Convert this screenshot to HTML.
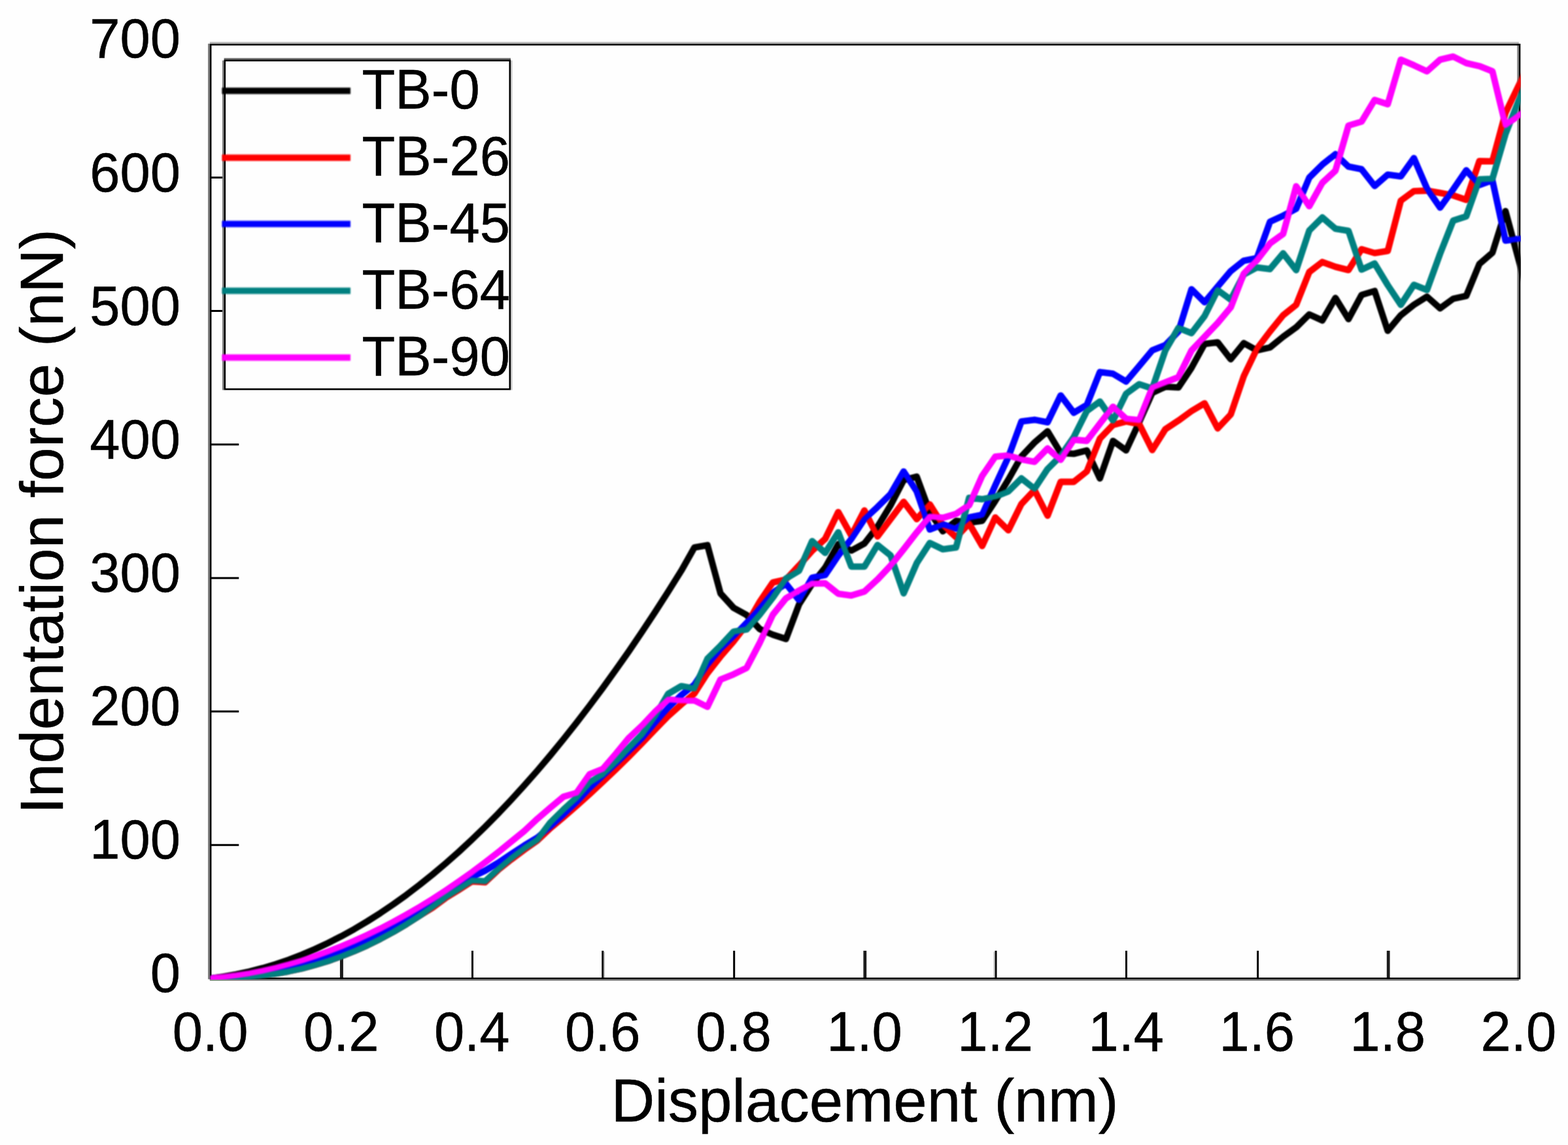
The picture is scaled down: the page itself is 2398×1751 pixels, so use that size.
<!DOCTYPE html>
<html lang="en"><head><meta charset="utf-8"><title>Indentation force vs displacement</title>
<style>
html,body{margin:0;padding:0;background:#fff;}
body{width:2398px;height:1751px;overflow:hidden;}
svg{display:block;}
text{font-family:"Liberation Sans",sans-serif;fill:#000;stroke:#000;stroke-width:0.5px;stroke-linejoin:round;}
.soft{filter:url(#soft);}
.softt{filter:url(#softt);}
.tk{font-size:83.2px;}
.ax{font-size:92.5px;}
.c{fill:none;stroke-width:8.6;stroke-linejoin:round;stroke-linecap:butt;}
</style></head><body>
<svg width="2398" height="1751" viewBox="0 0 2398 1751">
<defs><filter id="soft" x="-2%" y="-2%" width="104%" height="104%" color-interpolation-filters="sRGB"><feGaussianBlur stdDeviation="0.85"/></filter><filter id="softt" x="-5%" y="-20%" width="110%" height="140%" color-interpolation-filters="sRGB"><feGaussianBlur stdDeviation="0.75"/></filter></defs>
<rect x="0" y="0" width="2398" height="1751" fill="#fefefe"/>
<g stroke="#000" stroke-width="3" fill="none">
<line x1="522.4" y1="1496.3" x2="522.4" y2="1453.9" stroke="#1c1c1c" stroke-width="5.0"/>
<line x1="722.5" y1="1496.3" x2="722.5" y2="1453.9" stroke="#000" stroke-width="3.0"/>
<line x1="921.7" y1="1496.3" x2="921.7" y2="1453.9" stroke="#000" stroke-width="3.0"/>
<line x1="924.1" y1="1496.3" x2="924.1" y2="1455.5" stroke="#b4b4b4" stroke-width="1.8"/>
<line x1="1122.7" y1="1496.3" x2="1122.7" y2="1453.9" stroke="#000" stroke-width="3.0"/>
<line x1="1322.8" y1="1496.3" x2="1322.8" y2="1453.9" stroke="#1c1c1c" stroke-width="4.8"/>
<line x1="1523.0" y1="1496.3" x2="1523.0" y2="1453.9" stroke="#000" stroke-width="3.0"/>
<line x1="1520.6" y1="1496.3" x2="1520.6" y2="1455.5" stroke="#b4b4b4" stroke-width="1.8"/>
<line x1="1722.5" y1="1496.3" x2="1722.5" y2="1453.9" stroke="#000" stroke-width="3.0"/>
<line x1="1923.6" y1="1496.3" x2="1923.6" y2="1453.9" stroke="#000" stroke-width="3.0"/>
<line x1="2123.2" y1="1496.3" x2="2123.2" y2="1453.9" stroke="#1c1c1c" stroke-width="4.8"/>
<line x1="321.8" y1="1292.2" x2="365.3" y2="1292.2"/>
<line x1="321.8" y1="1088.0" x2="365.3" y2="1088.0"/>
<line x1="321.8" y1="883.9" x2="365.3" y2="883.9"/>
<line x1="321.8" y1="679.7" x2="365.3" y2="679.7"/>
<line x1="321.8" y1="475.6" x2="365.3" y2="475.6"/>
<line x1="321.8" y1="271.5" x2="365.3" y2="271.5"/>
</g>
<g id="legend-box">
<rect x="341.3" y="90.1" width="441" height="506.4" fill="none" stroke="#8a8a8a" stroke-width="2.6" opacity="0"/>
</g>
<g id="curves" clip-path="url(#clip)"><g class="soft">
<defs><clipPath id="clip"><rect x="320.3" y="66.7" width="2005.2" height="1431.1"/></clipPath></defs>
<polyline class="c" stroke="#000000" points="321.6,1496.2 341.6,1493.5 361.6,1490.0 381.6,1485.7 401.6,1480.5 421.6,1474.5 441.6,1467.7 461.7,1460.0 481.7,1451.5 501.7,1442.1 521.7,1431.9 541.7,1420.9 561.7,1409.0 581.7,1396.3 601.7,1382.8 621.7,1368.4 641.7,1353.2 661.7,1337.1 681.7,1320.2 701.8,1302.5 721.8,1283.9 741.8,1264.5 761.8,1244.2 781.8,1223.1 801.8,1201.2 821.8,1178.5 841.8,1154.9 861.8,1130.4 881.8,1105.1 901.8,1079.0 921.8,1052.1 941.8,1024.3 961.9,995.7 981.9,966.2 1001.9,935.9 1021.9,904.7 1041.9,872.8 1061.9,837.3 1081.9,833.7 1101.9,907.5 1121.9,929.5 1141.9,940.5 1161.9,962.0 1181.9,970.6 1202.0,977.2 1222.0,924.2 1242.0,893.0 1262.0,868.0 1282.0,832.3 1302.0,842.0 1322.0,831.1 1342.0,805.5 1362.0,772.7 1382.0,734.2 1402.0,728.9 1422.0,783.3 1442.0,812.5 1462.1,796.5 1482.1,799.2 1502.1,796.5 1522.1,766.1 1542.1,733.5 1562.1,698.0 1582.1,676.8 1602.1,659.5 1622.1,692.6 1642.1,694.0 1662.1,688.8 1682.1,731.6 1702.2,674.2 1722.2,688.8 1742.2,645.8 1762.2,600.8 1782.2,591.5 1802.2,592.5 1822.2,562.5 1842.2,526.0 1862.2,523.5 1882.2,549.4 1902.2,524.8 1922.2,535.8 1942.2,531.4 1962.3,515.0 1982.3,500.6 2002.3,480.8 2022.3,490.0 2042.3,455.6 2062.3,488.0 2082.3,451.0 2102.3,445.0 2122.3,505.9 2142.3,482.1 2162.3,466.2 2182.3,453.6 2202.4,471.5 2222.4,456.9 2242.4,452.5 2262.4,403.8 2282.4,386.5 2302.4,322.8 2322.4,397.0 2334.4,441.5"/>
<polyline class="c" stroke="#ff0000" points="321.6,1496.2 341.6,1496.0 361.6,1495.3 381.6,1493.9 401.6,1491.8 421.6,1489.0 441.6,1485.4 461.7,1481.0 481.7,1475.7 501.7,1469.6 521.7,1462.5 541.7,1454.6 561.7,1445.7 581.7,1435.8 601.7,1425.0 621.7,1413.2 641.7,1400.4 661.7,1388.0 681.7,1373.2 701.8,1360.8 721.8,1348.0 741.8,1349.3 761.8,1330.5 781.8,1314.5 801.8,1299.5 821.8,1285.5 841.8,1266.4 861.8,1249.6 881.8,1232.2 901.8,1214.3 921.8,1195.7 941.8,1176.6 961.9,1156.9 981.9,1136.6 1001.9,1115.5 1021.9,1095.0 1041.9,1077.3 1061.9,1060.7 1081.9,1029.5 1101.9,1004.0 1121.9,981.0 1141.9,955.0 1161.9,920.2 1181.9,890.7 1202.0,886.1 1222.0,864.8 1242.0,842.3 1262.0,824.0 1282.0,783.0 1302.0,819.1 1322.0,780.6 1342.0,820.4 1362.0,793.9 1382.0,767.4 1402.0,793.9 1422.0,771.4 1442.0,803.2 1462.1,821.7 1482.1,800.5 1502.1,835.0 1522.1,791.2 1542.1,811.0 1562.1,770.7 1582.1,749.5 1602.1,788.6 1622.1,736.9 1642.1,736.9 1662.1,721.0 1682.1,670.8 1702.2,649.8 1722.2,644.5 1742.2,648.5 1762.2,688.3 1782.2,656.4 1802.2,643.2 1822.2,628.6 1842.2,616.7 1862.2,655.1 1882.2,633.9 1902.2,575.2 1922.2,533.5 1942.2,507.0 1962.3,482.1 1982.3,466.2 2002.3,416.0 2022.3,400.7 2042.3,408.0 2062.3,413.0 2082.3,381.0 2102.3,387.0 2122.3,383.8 2142.3,306.9 2162.3,292.3 2182.3,291.6 2202.4,295.0 2222.4,298.9 2242.4,305.6 2262.4,246.4 2282.4,246.7 2302.4,172.7 2322.4,131.0 2334.4,106.0"/>
<polyline class="c" stroke="#0000ff" points="321.6,1496.2 341.6,1495.1 361.6,1493.4 381.6,1491.1 401.6,1488.1 421.6,1484.5 441.6,1480.1 461.7,1474.9 481.7,1469.0 501.7,1462.4 521.7,1455.0 541.7,1446.8 561.7,1437.8 581.7,1428.0 601.7,1417.4 621.7,1406.0 641.7,1393.7 661.7,1380.6 681.7,1366.7 701.8,1353.7 721.8,1341.0 741.8,1331.5 761.8,1319.5 781.8,1306.0 801.8,1293.0 821.8,1281.0 841.8,1264.0 861.8,1246.0 881.8,1227.0 901.8,1205.5 921.8,1186.8 941.8,1168.2 961.9,1149.0 981.9,1129.3 1001.9,1105.5 1021.9,1082.5 1041.9,1063.0 1061.9,1047.0 1081.9,1016.7 1101.9,992.8 1121.9,973.2 1141.9,952.6 1161.9,930.2 1181.9,906.2 1202.0,892.7 1222.0,917.9 1242.0,883.4 1262.0,879.4 1282.0,849.5 1302.0,824.2 1322.0,793.9 1342.0,775.3 1362.0,755.5 1382.0,721.0 1402.0,751.5 1422.0,809.8 1442.0,801.9 1462.1,808.5 1482.1,791.2 1502.1,787.3 1522.1,742.2 1542.1,699.0 1562.1,644.5 1582.1,641.9 1602.1,645.8 1622.1,604.7 1642.1,631.2 1662.1,619.3 1682.1,568.9 1702.2,571.6 1722.2,583.5 1742.2,559.7 1762.2,535.8 1782.2,527.8 1802.2,507.0 1822.2,442.3 1842.2,462.2 1862.2,438.3 1882.2,414.6 1902.2,398.7 1922.2,394.8 1942.2,339.2 1962.3,329.9 1982.3,319.3 2002.3,271.6 2022.3,251.7 2042.3,235.8 2062.3,254.8 2082.3,258.8 2102.3,284.4 2122.3,267.0 2142.3,269.7 2162.3,241.8 2182.3,288.3 2202.4,317.5 2222.4,289.7 2242.4,260.4 2262.4,283.0 2282.4,275.7 2302.4,367.9 2322.4,365.2 2334.4,363.6"/>
<polyline class="c" stroke="#008080" points="321.6,1496.2 341.6,1496.0 361.6,1495.3 381.6,1493.9 401.6,1491.8 421.6,1489.0 441.6,1485.4 461.7,1481.0 481.7,1475.7 501.7,1469.6 521.7,1462.5 541.7,1454.6 561.7,1445.7 581.7,1435.8 601.7,1425.0 621.7,1413.2 641.7,1400.4 661.7,1386.5 681.7,1371.7 701.8,1359.3 721.8,1346.5 741.8,1347.8 761.8,1329.3 781.8,1312.5 801.8,1297.4 821.8,1284.2 841.8,1257.7 861.8,1238.0 881.8,1219.8 901.8,1196.6 921.8,1184.0 941.8,1164.7 961.9,1143.5 981.9,1123.0 1001.9,1095.0 1021.9,1061.0 1041.9,1049.2 1061.9,1053.0 1081.9,1007.4 1101.9,987.5 1121.9,966.0 1141.9,962.6 1161.9,940.0 1181.9,914.0 1202.0,884.7 1222.0,872.8 1242.0,827.5 1262.0,845.5 1282.0,814.0 1302.0,866.5 1322.0,866.5 1342.0,833.4 1362.0,849.3 1382.0,907.4 1402.0,861.2 1422.0,830.4 1442.0,840.0 1462.1,837.3 1482.1,761.4 1502.1,763.4 1522.1,759.4 1542.1,751.5 1562.1,731.6 1582.1,747.5 1602.1,717.2 1622.1,697.3 1642.1,668.5 1662.1,628.6 1682.1,614.0 1702.2,643.2 1722.2,602.1 1742.2,587.5 1762.2,594.1 1782.2,535.8 1802.2,501.5 1822.2,509.5 1842.2,483.4 1862.2,443.6 1882.2,458.2 1902.2,419.8 1922.2,409.0 1942.2,411.6 1962.3,387.4 1982.3,413.2 2002.3,352.5 2022.3,332.6 2042.3,349.8 2062.3,353.0 2082.3,412.3 2102.3,403.0 2122.3,436.0 2142.3,466.2 2162.3,435.6 2182.3,443.5 2202.4,388.0 2222.4,337.4 2242.4,330.8 2262.4,274.2 2282.4,273.5 2302.4,205.0 2322.4,154.5 2334.4,124.2"/>
<polyline class="c" stroke="#ff00ff" points="321.6,1496.2 341.6,1494.2 361.6,1491.6 381.6,1488.4 401.6,1484.5 421.6,1479.9 441.6,1474.7 461.7,1468.9 481.7,1462.4 501.7,1455.2 521.7,1447.5 541.7,1439.0 561.7,1429.9 581.7,1420.2 601.7,1409.8 621.7,1398.8 641.7,1387.1 661.7,1374.8 681.7,1361.8 701.8,1348.1 721.8,1333.9 741.8,1318.9 761.8,1303.4 781.8,1287.2 801.8,1270.8 821.8,1252.2 841.8,1235.0 861.8,1218.4 881.8,1212.5 901.8,1184.0 921.8,1176.0 941.8,1152.8 961.9,1128.3 981.9,1109.7 1001.9,1088.5 1021.9,1069.8 1041.9,1071.2 1061.9,1071.2 1081.9,1081.0 1101.9,1039.2 1121.9,1031.2 1141.9,1021.3 1161.9,983.0 1181.9,940.0 1202.0,915.0 1222.0,903.3 1242.0,892.4 1262.0,892.0 1282.0,908.0 1302.0,910.7 1322.0,904.7 1342.0,886.2 1362.0,865.0 1382.0,840.0 1402.0,814.2 1422.0,789.9 1442.0,791.9 1462.1,785.9 1482.1,772.7 1502.1,727.6 1522.1,698.4 1542.1,696.5 1562.1,702.6 1582.1,706.2 1602.1,685.7 1622.1,703.2 1642.1,672.4 1662.1,674.1 1682.1,647.8 1702.2,622.0 1722.2,640.5 1742.2,642.5 1762.2,592.8 1782.2,584.8 1802.2,576.7 1822.2,536.0 1842.2,515.0 1862.2,494.0 1882.2,470.1 1902.2,418.4 1922.2,398.0 1942.2,372.3 1962.3,357.8 1982.3,284.8 2002.3,315.3 2022.3,279.5 2042.3,261.0 2062.3,192.0 2082.3,186.0 2102.3,152.8 2122.3,159.4 2142.3,91.2 2162.3,99.8 2182.3,109.1 2202.4,91.2 2222.4,86.5 2242.4,96.5 2262.4,101.1 2282.4,109.1 2302.4,191.3 2322.4,176.7 2334.4,167.9"/>
</g></g>
<g fill="none">
<line x1="319.4" y1="66.8" x2="319.4" y2="1497.6" stroke="#808080" stroke-width="2.8"/>
<line x1="320.8" y1="65.4" x2="2322.8" y2="65.4" stroke="#bdbdbd" stroke-width="2.8"/>
<line x1="2321.4" y1="66.8" x2="2321.4" y2="1495" stroke="#949494" stroke-width="2.8"/>
<line x1="320.8" y1="1498.7" x2="2322.8" y2="1498.7" stroke="#8e8e8e" stroke-width="2.6"/>
</g>
<rect id="frame" x="322.1" y="68.2" width="2001.9" height="1428.1" fill="none" stroke="#000" stroke-width="2.7"/>
<g id="curves-top" clip-path="url(#clip2)"><g class="soft">
<defs><clipPath id="clip2"><rect x="320.8" y="60" width="2004.6" height="1438"/></clipPath></defs>
<polyline class="c" stroke="#000000" points="321.6,1496.2 341.6,1493.5 361.6,1490.0 381.6,1485.7 401.6,1480.5 421.6,1474.5 441.6,1467.7 461.7,1460.0 481.7,1451.5 501.7,1442.1 521.7,1431.9 541.7,1420.9 561.7,1409.0 581.7,1396.3 601.7,1382.8 621.7,1368.4 641.7,1353.2 661.7,1337.1 681.7,1320.2 701.8,1302.5 721.8,1283.9 741.8,1264.5 761.8,1244.2 781.8,1223.1 801.8,1201.2 821.8,1178.5 841.8,1154.9 861.8,1130.4 881.8,1105.1 901.8,1079.0 921.8,1052.1 941.8,1024.3 961.9,995.7 981.9,966.2 1001.9,935.9 1021.9,904.7 1041.9,872.8 1061.9,837.3 1081.9,833.7 1101.9,907.5 1121.9,929.5 1141.9,940.5 1161.9,962.0 1181.9,970.6 1202.0,977.2 1222.0,924.2 1242.0,893.0 1262.0,868.0 1282.0,832.3 1302.0,842.0 1322.0,831.1 1342.0,805.5 1362.0,772.7 1382.0,734.2 1402.0,728.9 1422.0,783.3 1442.0,812.5 1462.1,796.5 1482.1,799.2 1502.1,796.5 1522.1,766.1 1542.1,733.5 1562.1,698.0 1582.1,676.8 1602.1,659.5 1622.1,692.6 1642.1,694.0 1662.1,688.8 1682.1,731.6 1702.2,674.2 1722.2,688.8 1742.2,645.8 1762.2,600.8 1782.2,591.5 1802.2,592.5 1822.2,562.5 1842.2,526.0 1862.2,523.5 1882.2,549.4 1902.2,524.8 1922.2,535.8 1942.2,531.4 1962.3,515.0 1982.3,500.6 2002.3,480.8 2022.3,490.0 2042.3,455.6 2062.3,488.0 2082.3,451.0 2102.3,445.0 2122.3,505.9 2142.3,482.1 2162.3,466.2 2182.3,453.6 2202.4,471.5 2222.4,456.9 2242.4,452.5 2262.4,403.8 2282.4,386.5 2302.4,322.8 2322.4,397.0 2334.4,441.5"/>
<polyline class="c" stroke="#ff0000" points="321.6,1496.2 341.6,1496.0 361.6,1495.3 381.6,1493.9 401.6,1491.8 421.6,1489.0 441.6,1485.4 461.7,1481.0 481.7,1475.7 501.7,1469.6 521.7,1462.5 541.7,1454.6 561.7,1445.7 581.7,1435.8 601.7,1425.0 621.7,1413.2 641.7,1400.4 661.7,1388.0 681.7,1373.2 701.8,1360.8 721.8,1348.0 741.8,1349.3 761.8,1330.5 781.8,1314.5 801.8,1299.5 821.8,1285.5 841.8,1266.4 861.8,1249.6 881.8,1232.2 901.8,1214.3 921.8,1195.7 941.8,1176.6 961.9,1156.9 981.9,1136.6 1001.9,1115.5 1021.9,1095.0 1041.9,1077.3 1061.9,1060.7 1081.9,1029.5 1101.9,1004.0 1121.9,981.0 1141.9,955.0 1161.9,920.2 1181.9,890.7 1202.0,886.1 1222.0,864.8 1242.0,842.3 1262.0,824.0 1282.0,783.0 1302.0,819.1 1322.0,780.6 1342.0,820.4 1362.0,793.9 1382.0,767.4 1402.0,793.9 1422.0,771.4 1442.0,803.2 1462.1,821.7 1482.1,800.5 1502.1,835.0 1522.1,791.2 1542.1,811.0 1562.1,770.7 1582.1,749.5 1602.1,788.6 1622.1,736.9 1642.1,736.9 1662.1,721.0 1682.1,670.8 1702.2,649.8 1722.2,644.5 1742.2,648.5 1762.2,688.3 1782.2,656.4 1802.2,643.2 1822.2,628.6 1842.2,616.7 1862.2,655.1 1882.2,633.9 1902.2,575.2 1922.2,533.5 1942.2,507.0 1962.3,482.1 1982.3,466.2 2002.3,416.0 2022.3,400.7 2042.3,408.0 2062.3,413.0 2082.3,381.0 2102.3,387.0 2122.3,383.8 2142.3,306.9 2162.3,292.3 2182.3,291.6 2202.4,295.0 2222.4,298.9 2242.4,305.6 2262.4,246.4 2282.4,246.7 2302.4,172.7 2322.4,131.0 2334.4,106.0"/>
<polyline class="c" stroke="#0000ff" points="321.6,1496.2 341.6,1495.1 361.6,1493.4 381.6,1491.1 401.6,1488.1 421.6,1484.5 441.6,1480.1 461.7,1474.9 481.7,1469.0 501.7,1462.4 521.7,1455.0 541.7,1446.8 561.7,1437.8 581.7,1428.0 601.7,1417.4 621.7,1406.0 641.7,1393.7 661.7,1380.6 681.7,1366.7 701.8,1353.7 721.8,1341.0 741.8,1331.5 761.8,1319.5 781.8,1306.0 801.8,1293.0 821.8,1281.0 841.8,1264.0 861.8,1246.0 881.8,1227.0 901.8,1205.5 921.8,1186.8 941.8,1168.2 961.9,1149.0 981.9,1129.3 1001.9,1105.5 1021.9,1082.5 1041.9,1063.0 1061.9,1047.0 1081.9,1016.7 1101.9,992.8 1121.9,973.2 1141.9,952.6 1161.9,930.2 1181.9,906.2 1202.0,892.7 1222.0,917.9 1242.0,883.4 1262.0,879.4 1282.0,849.5 1302.0,824.2 1322.0,793.9 1342.0,775.3 1362.0,755.5 1382.0,721.0 1402.0,751.5 1422.0,809.8 1442.0,801.9 1462.1,808.5 1482.1,791.2 1502.1,787.3 1522.1,742.2 1542.1,699.0 1562.1,644.5 1582.1,641.9 1602.1,645.8 1622.1,604.7 1642.1,631.2 1662.1,619.3 1682.1,568.9 1702.2,571.6 1722.2,583.5 1742.2,559.7 1762.2,535.8 1782.2,527.8 1802.2,507.0 1822.2,442.3 1842.2,462.2 1862.2,438.3 1882.2,414.6 1902.2,398.7 1922.2,394.8 1942.2,339.2 1962.3,329.9 1982.3,319.3 2002.3,271.6 2022.3,251.7 2042.3,235.8 2062.3,254.8 2082.3,258.8 2102.3,284.4 2122.3,267.0 2142.3,269.7 2162.3,241.8 2182.3,288.3 2202.4,317.5 2222.4,289.7 2242.4,260.4 2262.4,283.0 2282.4,275.7 2302.4,367.9 2322.4,365.2 2334.4,363.6"/>
<polyline class="c" stroke="#008080" points="321.6,1496.2 341.6,1496.0 361.6,1495.3 381.6,1493.9 401.6,1491.8 421.6,1489.0 441.6,1485.4 461.7,1481.0 481.7,1475.7 501.7,1469.6 521.7,1462.5 541.7,1454.6 561.7,1445.7 581.7,1435.8 601.7,1425.0 621.7,1413.2 641.7,1400.4 661.7,1386.5 681.7,1371.7 701.8,1359.3 721.8,1346.5 741.8,1347.8 761.8,1329.3 781.8,1312.5 801.8,1297.4 821.8,1284.2 841.8,1257.7 861.8,1238.0 881.8,1219.8 901.8,1196.6 921.8,1184.0 941.8,1164.7 961.9,1143.5 981.9,1123.0 1001.9,1095.0 1021.9,1061.0 1041.9,1049.2 1061.9,1053.0 1081.9,1007.4 1101.9,987.5 1121.9,966.0 1141.9,962.6 1161.9,940.0 1181.9,914.0 1202.0,884.7 1222.0,872.8 1242.0,827.5 1262.0,845.5 1282.0,814.0 1302.0,866.5 1322.0,866.5 1342.0,833.4 1362.0,849.3 1382.0,907.4 1402.0,861.2 1422.0,830.4 1442.0,840.0 1462.1,837.3 1482.1,761.4 1502.1,763.4 1522.1,759.4 1542.1,751.5 1562.1,731.6 1582.1,747.5 1602.1,717.2 1622.1,697.3 1642.1,668.5 1662.1,628.6 1682.1,614.0 1702.2,643.2 1722.2,602.1 1742.2,587.5 1762.2,594.1 1782.2,535.8 1802.2,501.5 1822.2,509.5 1842.2,483.4 1862.2,443.6 1882.2,458.2 1902.2,419.8 1922.2,409.0 1942.2,411.6 1962.3,387.4 1982.3,413.2 2002.3,352.5 2022.3,332.6 2042.3,349.8 2062.3,353.0 2082.3,412.3 2102.3,403.0 2122.3,436.0 2142.3,466.2 2162.3,435.6 2182.3,443.5 2202.4,388.0 2222.4,337.4 2242.4,330.8 2262.4,274.2 2282.4,273.5 2302.4,205.0 2322.4,154.5 2334.4,124.2"/>
<polyline class="c" stroke="#ff00ff" points="321.6,1496.2 341.6,1494.2 361.6,1491.6 381.6,1488.4 401.6,1484.5 421.6,1479.9 441.6,1474.7 461.7,1468.9 481.7,1462.4 501.7,1455.2 521.7,1447.5 541.7,1439.0 561.7,1429.9 581.7,1420.2 601.7,1409.8 621.7,1398.8 641.7,1387.1 661.7,1374.8 681.7,1361.8 701.8,1348.1 721.8,1333.9 741.8,1318.9 761.8,1303.4 781.8,1287.2 801.8,1270.8 821.8,1252.2 841.8,1235.0 861.8,1218.4 881.8,1212.5 901.8,1184.0 921.8,1176.0 941.8,1152.8 961.9,1128.3 981.9,1109.7 1001.9,1088.5 1021.9,1069.8 1041.9,1071.2 1061.9,1071.2 1081.9,1081.0 1101.9,1039.2 1121.9,1031.2 1141.9,1021.3 1161.9,983.0 1181.9,940.0 1202.0,915.0 1222.0,903.3 1242.0,892.4 1262.0,892.0 1282.0,908.0 1302.0,910.7 1322.0,904.7 1342.0,886.2 1362.0,865.0 1382.0,840.0 1402.0,814.2 1422.0,789.9 1442.0,791.9 1462.1,785.9 1482.1,772.7 1502.1,727.6 1522.1,698.4 1542.1,696.5 1562.1,702.6 1582.1,706.2 1602.1,685.7 1622.1,703.2 1642.1,672.4 1662.1,674.1 1682.1,647.8 1702.2,622.0 1722.2,640.5 1742.2,642.5 1762.2,592.8 1782.2,584.8 1802.2,576.7 1822.2,536.0 1842.2,515.0 1862.2,494.0 1882.2,470.1 1902.2,418.4 1922.2,398.0 1942.2,372.3 1962.3,357.8 1982.3,284.8 2002.3,315.3 2022.3,279.5 2042.3,261.0 2062.3,192.0 2082.3,186.0 2102.3,152.8 2122.3,159.4 2142.3,91.2 2162.3,99.8 2182.3,109.1 2202.4,91.2 2222.4,86.5 2242.4,96.5 2262.4,101.1 2282.4,109.1 2302.4,191.3 2322.4,176.7 2334.4,167.9"/>
</g></g>
<g id="legend">
<rect x="342.5" y="91.2" width="438.6" height="504" fill="#fefefe" stroke="none"/>
<line x1="341.3" y1="92.5" x2="341.3" y2="596.5" stroke="#808080" stroke-width="2.6"/>
<line x1="342.6" y1="90.1" x2="781" y2="90.1" stroke="#6e6e6e" stroke-width="2.6"/>
<line x1="782.3" y1="92.5" x2="782.3" y2="596.5" stroke="#c8c8c8" stroke-width="2.6"/>
<rect x="343.8" y="92.5" width="436" height="502.7" fill="none" stroke="#000" stroke-width="2.6"/>
<g class="soft">
<rect x="339.5" y="134.0" width="196.5" height="9.8" fill="#000000"/>
<rect x="339.5" y="236.3" width="196.5" height="9.8" fill="#ff0000"/>
<rect x="339.5" y="337.6" width="196.5" height="9.8" fill="#0000ff"/>
<rect x="339.5" y="439.8" width="196.5" height="9.8" fill="#008080"/>
<rect x="339.5" y="541.9" width="196.5" height="9.8" fill="#ff00ff"/>
</g>
<text class="tk softt" transform="translate(553.5,165.9) scale(1,1.035)">TB-0</text>
<text class="tk softt" transform="translate(553.5,268.2) scale(1,1.035)">TB-26</text>
<text class="tk softt" transform="translate(553.5,369.5) scale(1,1.035)">TB-45</text>
<text class="tk softt" transform="translate(553.5,471.7) scale(1,1.035)">TB-64</text>
<text class="tk softt" transform="translate(553.5,573.8) scale(1,1.035)">TB-90</text>
</g>
<g id="xticks" text-anchor="middle" class="softt">
<text class="tk" transform="translate(321.6,1607.3) scale(1,1.025)">0.0</text>
<text class="tk" transform="translate(521.7,1607.3) scale(1,1.025)">0.2</text>
<text class="tk" transform="translate(721.8,1607.3) scale(1,1.025)">0.4</text>
<text class="tk" transform="translate(921.8,1607.3) scale(1,1.025)">0.6</text>
<text class="tk" transform="translate(1121.9,1607.3) scale(1,1.025)">0.8</text>
<text class="tk" transform="translate(1322.0,1607.3) scale(1,1.025)">1.0</text>
<text class="tk" transform="translate(1522.1,1607.3) scale(1,1.025)">1.2</text>
<text class="tk" transform="translate(1722.2,1607.3) scale(1,1.025)">1.4</text>
<text class="tk" transform="translate(1922.2,1607.3) scale(1,1.025)">1.6</text>
<text class="tk" transform="translate(2122.3,1607.3) scale(1,1.025)">1.8</text>
<text class="tk" transform="translate(2322.4,1607.3) scale(1,1.025)">2.0</text>
</g>
<g id="yticks" text-anchor="end" class="softt">
<text class="tk" transform="translate(276,1517.3) scale(1,1.025)">0</text>
<text class="tk" transform="translate(276,1313.2) scale(1,1.025)">100</text>
<text class="tk" transform="translate(276,1109.0) scale(1,1.025)">200</text>
<text class="tk" transform="translate(276,904.9) scale(1,1.025)">300</text>
<text class="tk" transform="translate(276,700.7) scale(1,1.025)">400</text>
<text class="tk" transform="translate(276,496.6) scale(1,1.025)">500</text>
<text class="tk" transform="translate(276,292.5) scale(1,1.025)">600</text>
<text class="tk" transform="translate(276,88.3) scale(1,1.025)">700</text>
</g>
<text class="ax softt" text-anchor="middle" x="1322.5" y="1714.6">Displacement (nm)</text>
<g class="softt"><text class="ax" text-anchor="middle" transform="translate(95.5,797.5) rotate(-90)">Indentation force (nN)</text></g>
</svg>
</body></html>
